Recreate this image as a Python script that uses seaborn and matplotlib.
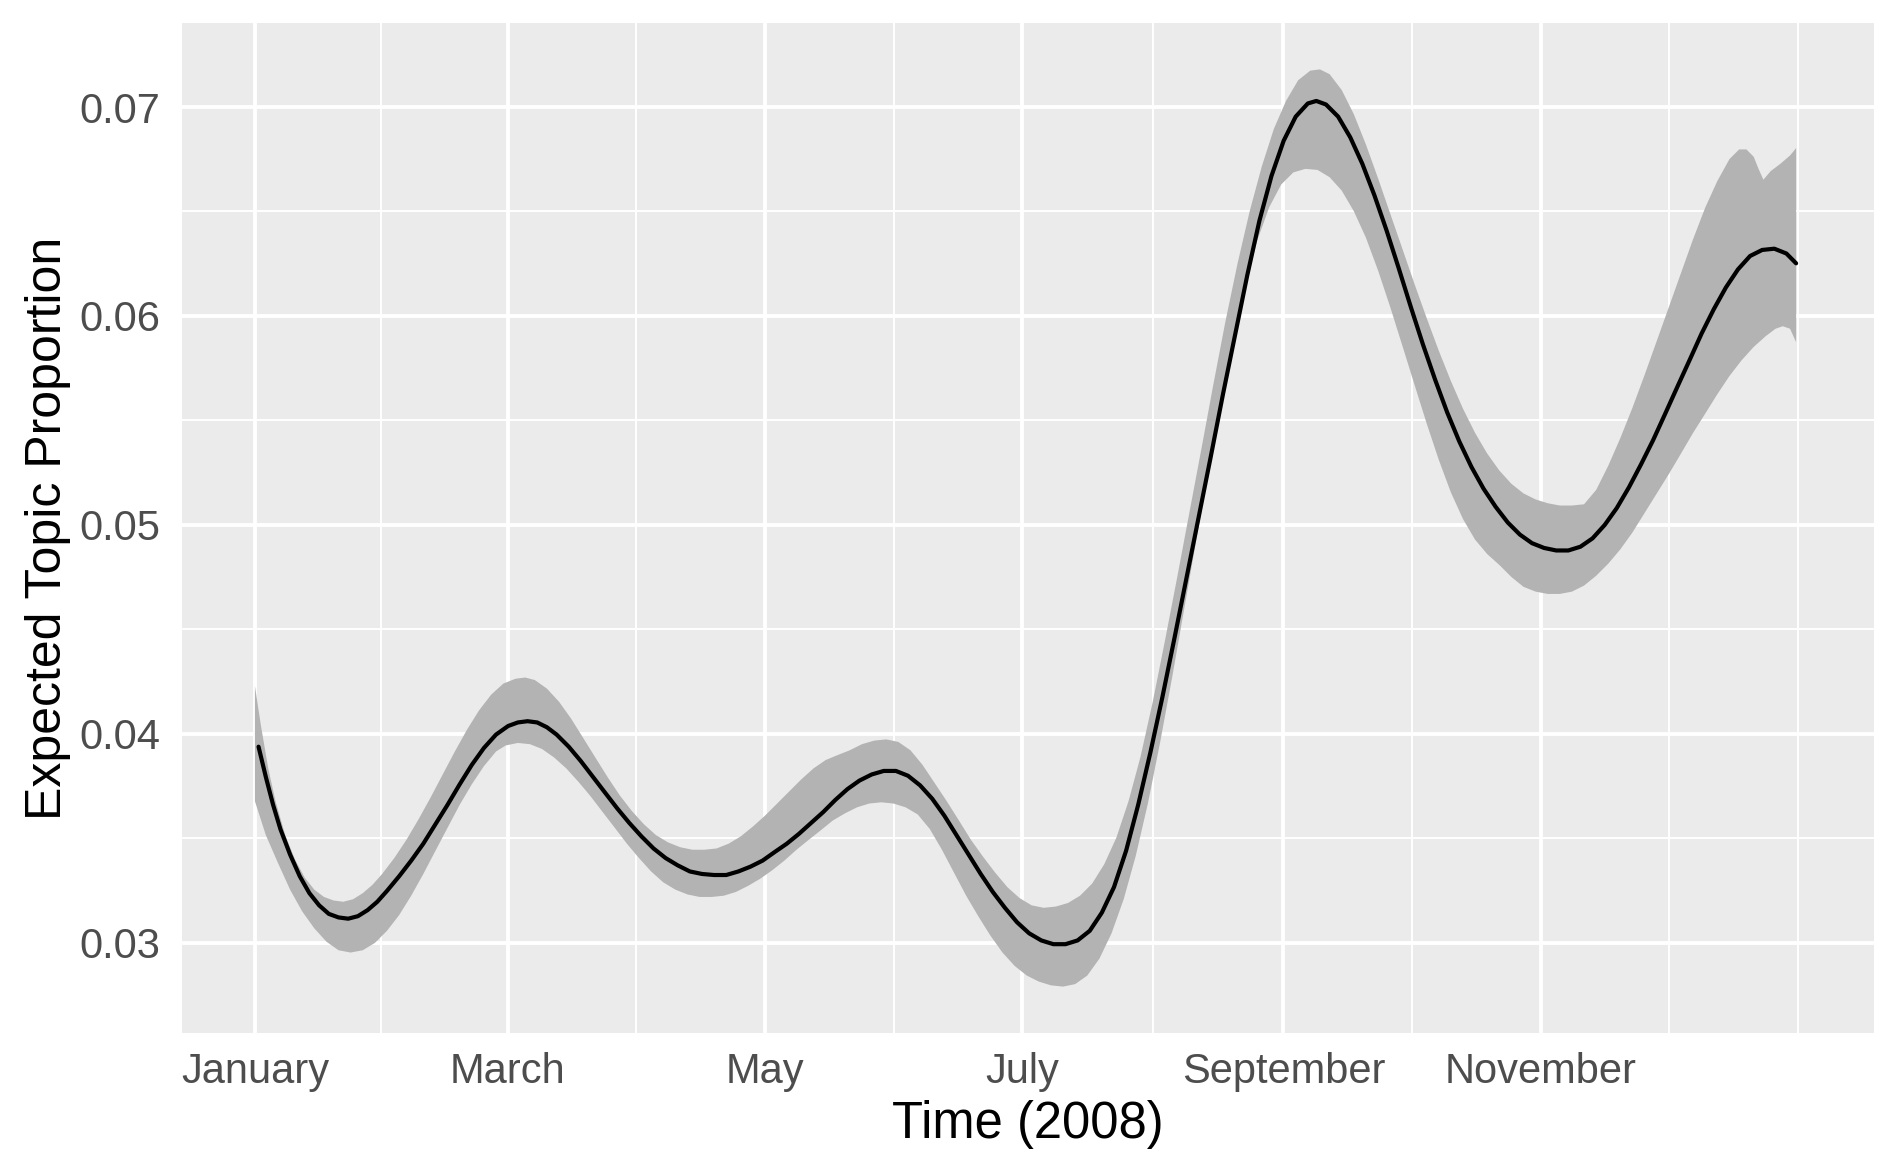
import numpy as np
import pandas as pd
import matplotlib
matplotlib.use("Agg")
import matplotlib.pyplot as plt
import matplotlib.dates as mdates
import seaborn as sns

# ---- data: days since 2008-01-01 and expected topic proportion ----
mean_days = [0.86, 2.59, 4.31, 6.04, 8.34, 10.64, 12.93, 15.23, 17.53, 19.83, 22.13, 24.43,
             26.73, 29.03, 31.33, 34.21, 37.08, 39.95, 42.83, 45.70, 48.58, 51.45, 54.33,
             57.20, 60.07, 62.37, 64.67, 66.97, 69.27, 71.57, 74.45, 77.32, 80.20, 83.07,
             85.94, 88.82, 91.69, 94.57, 97.44, 100.32, 103.19, 106.06, 108.94, 111.81,
             114.69, 117.56, 120.44, 123.31, 126.19, 129.06, 131.93, 134.81, 137.68,
             140.56, 143.43, 146.31, 149.18, 152.06, 154.93, 157.80, 160.68, 163.55,
             166.43, 169.30, 172.18, 175.05, 177.93, 180.80, 183.67, 186.55, 189.42,
             192.30, 195.17, 198.05, 200.92, 203.80, 206.67, 209.54, 212.42, 215.29,
             218.17, 221.04, 223.92, 226.79, 229.66, 232.54, 235.41, 238.29, 241.16,
             244.04, 246.91, 249.78, 251.80, 254.10, 256.97, 259.85, 262.72, 265.59,
             268.47, 271.34, 274.22, 277.09, 279.97, 282.84, 285.71, 288.59, 291.46,
             294.34, 297.21, 300.09, 302.96, 305.83, 308.71, 311.58, 314.46, 317.33,
             320.21, 323.08, 325.96, 328.83, 331.70, 334.58, 337.45, 340.33, 343.20,
             346.08, 348.95, 351.83, 354.70, 357.57, 360.45, 363.32, 365.62]
mean_vals = [0.03939, 0.03794, 0.03661, 0.03545, 0.03423, 0.03319, 0.03238, 0.03180,
             0.03139, 0.03122, 0.03116, 0.03128, 0.03157, 0.03197, 0.03249, 0.03319,
             0.03394, 0.03475, 0.03568, 0.03661, 0.03759, 0.03852, 0.03933, 0.03997,
             0.04038, 0.04055, 0.04061, 0.04055, 0.04032, 0.03997, 0.03939, 0.03870,
             0.03794, 0.03719, 0.03644, 0.03574, 0.03510, 0.03452, 0.03406, 0.03371,
             0.03342, 0.03330, 0.03325, 0.03325, 0.03342, 0.03365, 0.03394, 0.03435,
             0.03475, 0.03522, 0.03574, 0.03626, 0.03684, 0.03736, 0.03777, 0.03806,
             0.03823, 0.03823, 0.03800, 0.03754, 0.03690, 0.03609, 0.03516, 0.03423,
             0.03330, 0.03244, 0.03168, 0.03099, 0.03046, 0.03012, 0.02994, 0.02994,
             0.03012, 0.03058, 0.03145, 0.03267, 0.03441, 0.03661, 0.03910, 0.04177,
             0.04461, 0.04751, 0.05041, 0.05330, 0.05626, 0.05910, 0.06194, 0.06455,
             0.06670, 0.06838, 0.06954, 0.07017, 0.07029, 0.07012, 0.06954, 0.06855,
             0.06728, 0.06577, 0.06409, 0.06229, 0.06043, 0.05864, 0.05696, 0.05539,
             0.05400, 0.05278, 0.05174, 0.05087, 0.05012, 0.04954, 0.04913, 0.04890,
             0.04878, 0.04878, 0.04896, 0.04936, 0.05000, 0.05081, 0.05180, 0.05290,
             0.05406, 0.05533, 0.05661, 0.05788, 0.05916, 0.06032, 0.06136, 0.06223,
             0.06287, 0.06316, 0.06322, 0.06299, 0.06252]

upper_days = [0.0, 1.44, 3.16, 4.89, 7.19, 9.49, 11.79, 14.08, 16.38, 18.68, 20.98, 23.28,
              25.58, 27.88, 30.18, 33.06, 35.93, 38.80, 41.68, 44.55, 47.43, 50.30, 53.18,
              56.05, 58.93, 61.80, 64.10, 66.40, 69.27, 72.15, 75.02, 77.90, 80.77, 83.65,
              86.52, 89.39, 92.27, 95.14, 98.02, 100.89, 103.77, 106.64, 109.52, 112.39,
              115.26, 118.14, 121.01, 123.89, 126.76, 129.64, 132.51, 135.39, 138.26,
              141.13, 144.01, 146.88, 149.76, 152.63, 155.51, 158.38, 161.26, 164.13,
              167.01, 169.88, 172.75, 175.63, 178.50, 181.38, 184.25, 187.13, 190.00,
              192.88, 195.75, 198.62, 201.50, 204.37, 207.25, 210.12, 213.00, 215.87,
              218.75, 221.62, 224.49, 227.37, 230.24, 233.12, 235.99, 238.87, 241.74,
              244.61, 247.49, 250.36, 252.66, 254.96, 257.83, 260.71, 263.58, 266.46,
              269.33, 272.21, 275.08, 277.96, 280.83, 283.70, 286.58, 289.45, 292.33,
              295.20, 298.08, 300.95, 303.83, 306.70, 309.57, 312.45, 315.32, 318.20,
              321.07, 323.95, 326.82, 329.70, 332.57, 335.44, 338.32, 341.19, 344.07,
              346.94, 349.82, 352.11, 353.84, 355.56, 356.71, 357.86, 359.58, 361.88,
              364.18, 365.62]
upper_vals = [0.04229, 0.04038, 0.03835, 0.03678, 0.03516, 0.03400, 0.03313, 0.03255,
              0.03220, 0.03203, 0.03197, 0.03209, 0.03238, 0.03278, 0.03330, 0.03406,
              0.03493, 0.03591, 0.03696, 0.03806, 0.03916, 0.04020, 0.04113, 0.04188,
              0.04241, 0.04264, 0.04270, 0.04258, 0.04217, 0.04154, 0.04073, 0.03980,
              0.03887, 0.03794, 0.03707, 0.03632, 0.03568, 0.03516, 0.03481, 0.03458,
              0.03446, 0.03446, 0.03452, 0.03475, 0.03510, 0.03557, 0.03609, 0.03667,
              0.03725, 0.03783, 0.03835, 0.03875, 0.03899, 0.03922, 0.03951, 0.03968,
              0.03974, 0.03962, 0.03922, 0.03852, 0.03765, 0.03678, 0.03586, 0.03493,
              0.03412, 0.03336, 0.03267, 0.03215, 0.03180, 0.03168, 0.03174, 0.03191,
              0.03226, 0.03284, 0.03377, 0.03504, 0.03678, 0.03893, 0.04154, 0.04444,
              0.04745, 0.05052, 0.05359, 0.05672, 0.05974, 0.06252, 0.06501, 0.06716,
              0.06896, 0.07029, 0.07128, 0.07174, 0.07180, 0.07157, 0.07081, 0.06965,
              0.06820, 0.06658, 0.06490, 0.06322, 0.06154, 0.05991, 0.05835, 0.05690,
              0.05557, 0.05441, 0.05342, 0.05261, 0.05197, 0.05151, 0.05122, 0.05104,
              0.05093, 0.05093, 0.05099, 0.05168, 0.05284, 0.05417, 0.05562, 0.05719,
              0.05881, 0.06043, 0.06206, 0.06368, 0.06519, 0.06646, 0.06751, 0.06797,
              0.06797, 0.06762, 0.06704, 0.06652, 0.06693, 0.06728, 0.06768, 0.06803]

lower_days = [0.0, 2.59, 5.46, 8.34, 11.21, 14.08, 16.96, 19.83, 22.71, 25.58, 28.46, 31.33,
              34.21, 37.08, 39.95, 42.83, 45.70, 48.58, 51.45, 54.33, 57.20, 59.50, 62.37,
              65.25, 68.12, 71.00, 73.87, 76.75, 79.62, 82.50, 85.37, 88.24, 91.12, 93.99,
              96.87, 99.74, 102.62, 105.49, 108.37, 111.24, 114.11, 116.99, 119.86,
              122.74, 125.61, 128.49, 131.36, 134.24, 137.11, 139.98, 142.86, 145.73,
              148.61, 151.48, 154.36, 157.23, 160.11, 162.98, 165.85, 168.73, 171.60,
              174.48, 177.35, 180.23, 183.10, 185.97, 188.85, 191.72, 194.60, 197.47,
              200.35, 203.22, 206.10, 208.97, 211.84, 214.72, 217.59, 220.47, 223.34,
              226.22, 229.09, 231.97, 234.84, 237.71, 240.59, 243.46, 246.34, 249.21,
              252.09, 254.96, 257.83, 260.71, 263.58, 266.46, 269.33, 272.21, 275.08,
              277.96, 280.83, 283.70, 286.58, 289.45, 292.33, 295.20, 298.08, 300.95,
              303.83, 306.70, 309.57, 312.45, 315.32, 318.20, 321.07, 323.95, 326.82,
              329.70, 332.57, 335.44, 338.32, 341.19, 344.07, 346.94, 349.82, 352.69,
              355.56, 358.44, 360.74, 362.46, 364.18, 365.62]
lower_vals = [0.03678, 0.03516, 0.03383, 0.03255, 0.03151, 0.03070, 0.03006, 0.02965,
              0.02954, 0.02965, 0.03000, 0.03058, 0.03133, 0.03226, 0.03330, 0.03441,
              0.03551, 0.03661, 0.03759, 0.03846, 0.03916, 0.03945, 0.03957, 0.03951,
              0.03928, 0.03887, 0.03835, 0.03771, 0.03702, 0.03626, 0.03551, 0.03475,
              0.03406, 0.03342, 0.03290, 0.03255, 0.03232, 0.03220, 0.03220, 0.03226,
              0.03244, 0.03273, 0.03307, 0.03348, 0.03394, 0.03446, 0.03493, 0.03539,
              0.03586, 0.03620, 0.03649, 0.03667, 0.03673, 0.03667, 0.03649, 0.03615,
              0.03545, 0.03446, 0.03336, 0.03226, 0.03128, 0.03035, 0.02954, 0.02890,
              0.02844, 0.02815, 0.02797, 0.02791, 0.02803, 0.02844, 0.02925, 0.03046,
              0.03209, 0.03417, 0.03667, 0.03957, 0.04270, 0.04600, 0.04930, 0.05255,
              0.05574, 0.05875, 0.06136, 0.06357, 0.06519, 0.06629, 0.06687, 0.06704,
              0.06699, 0.06664, 0.06600, 0.06501, 0.06374, 0.06217, 0.06043, 0.05858,
              0.05672, 0.05487, 0.05313, 0.05157, 0.05029, 0.04930, 0.04861, 0.04809,
              0.04751, 0.04704, 0.04681, 0.04670, 0.04670, 0.04681, 0.04710, 0.04757,
              0.04815, 0.04884, 0.04965, 0.05058, 0.05151, 0.05244, 0.05342, 0.05441,
              0.05533, 0.05626, 0.05713, 0.05788, 0.05852, 0.05904, 0.05939, 0.05951,
              0.05939, 0.05875]

tick_days = [0, 60, 121, 182, 244, 305]
tick_labels = ["January", "March", "May", "July", "September", "November"]
minor_days = [30, 90.5, 151.5, 213, 274.5, 335.5, 366]
y_ticks = [0.03, 0.04, 0.05, 0.06, 0.07]
y_tick_labels = ["0.03", "0.04", "0.05", "0.06", "0.07"]
y_minor = [0.035, 0.045, 0.055, 0.065]

x_title = "Time (2008)"
y_title = "Expected Topic Proportion"

# ---- build ----
origin = pd.Timestamp("2008-01-01")
to_date = lambda d: origin + pd.to_timedelta(np.asarray(d, dtype=float), unit="D")
df = pd.DataFrame({"date": to_date(mean_days), "value": mean_vals})

sns.set_theme(style="darkgrid")
plt.rcParams["font.family"] = ["Liberation Sans", "DejaVu Sans"]

W, H = 1897, 1171
fig = plt.figure(figsize=(W / 100, H / 100), dpi=100)
ax = fig.add_axes([182 / W, 1 - 1033 / H, (1874 - 182) / W, (1033 - 23) / H])
ax.set_facecolor("#EBEBEB")

poly_x = np.concatenate([mdates.date2num(to_date(upper_days)),
                         mdates.date2num(to_date(lower_days))[::-1]])
poly_y = np.concatenate([upper_vals, lower_vals[::-1]])
ax.fill(poly_x, poly_y, color="#B3B3B3", lw=0, zorder=2)

sns.lineplot(data=df, x="date", y="value", ax=ax, color="black", lw=3.0, zorder=3)

ax.set_xlim(mdates.date2num(to_date([-17.3, 384.1])))
ax.set_ylim(0.02569, 0.07402)

ax.set_xticks(mdates.date2num(to_date(tick_days)))
ax.set_xticklabels(tick_labels)
ax.set_xticks(mdates.date2num(to_date(minor_days)), minor=True)
ax.set_yticks(y_ticks)
ax.set_yticklabels(y_tick_labels)
ax.set_yticks(y_minor, minor=True)

ax.grid(which="major", color="white", lw=2.8)
ax.grid(which="minor", color="white", lw=1.4)
ax.set_axisbelow(True)
for s in ax.spines.values():
    s.set_visible(False)

ax.tick_params(which="major", length=8.6, width=2.6, color="#333333",
               labelsize=30, labelcolor="#4D4D4D")
ax.tick_params(axis="y", pad=7)
ax.tick_params(axis="x", pad=5)
ax.tick_params(which="minor", length=0)

ax.set_xlabel(x_title, fontsize=36.5, color="black", labelpad=6)
ax.set_ylabel(y_title, fontsize=36, color="black", labelpad=6)

fig.savefig("out.png", dpi=100, facecolor="white")
